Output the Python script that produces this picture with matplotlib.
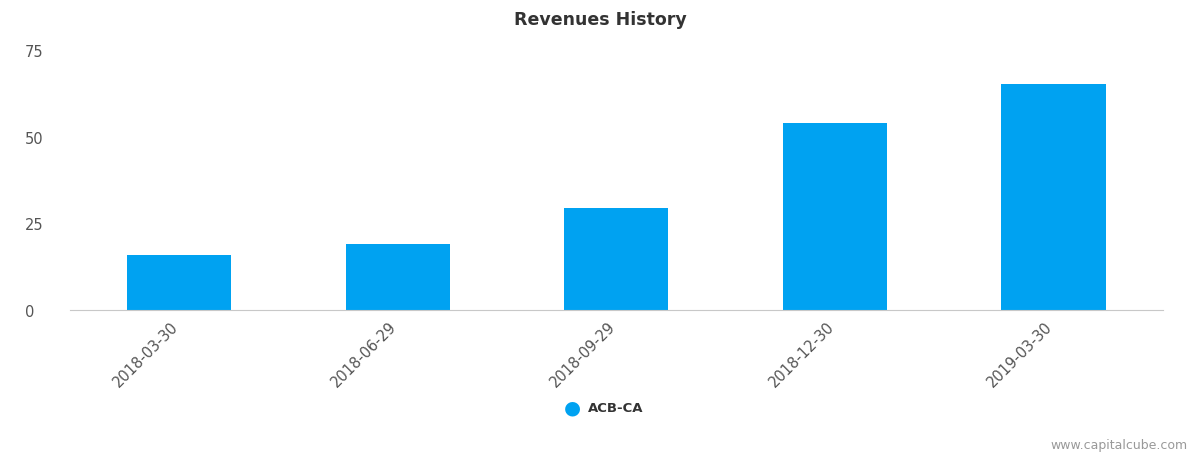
import numpy as np
import matplotlib.pyplot as plt

dates = ['2018-03-30', '2018-06-29', '2018-09-29', '2018-12-30', '2019-03-30']
revenues = [15.9, 19.0, 29.4, 53.9, 65.2]
series_name = 'ACB-CA'

fig = plt.figure(figsize=(12, 4.56), dpi=100)
ax = fig.add_axes([0.058, 0.318, 0.911, 0.57])
x = np.arange(len(dates))
ax.bar(x, revenues, width=0.476, color='#00a2f1')
ax.set_xlim(-0.5, len(dates) - 0.5)
ax.set_ylim(0, 75)
ax.set_yticks([0, 25, 50, 75])
ax.set_xticks(x)
ax.set_xticklabels(dates, rotation=45, ha='right', rotation_mode='anchor', color='#555555', fontsize=10.5)
ax.tick_params(axis='y', length=0, labelsize=10.5, labelcolor='#555555')
ax.tick_params(axis='x', length=0, pad=6)
for s in ['top', 'right', 'left']:
    ax.spines[s].set_visible(False)
ax.spines['bottom'].set_color('#c8c8c8')
for lab in ax.get_yticklabels():
    lab.set_horizontalalignment('left')
ax.yaxis.set_tick_params(pad=32)
for lab in ax.get_xticklabels():
    lab.set_x(lab.get_position()[0])
ax.set_xticks(x - 0.04)
ax.set_xticklabels(dates, rotation=45, ha='right', rotation_mode='anchor', color='#555555', fontsize=10.5)

fig.text(0.5, 0.957, 'Revenues History', ha='center', va='center', fontsize=12.5, fontweight='bold', color='#333333')
fig.text(0.477, 0.105, '\u25cf', ha='center', va='center', fontsize=14, color='#00a2f1')
fig.text(0.49, 0.105, series_name, ha='left', va='center', fontsize=9.5, fontweight='bold', color='#333333')
fig.text(0.99, 0.022, 'www.capitalcube.com', ha='right', va='center', fontsize=9, color='#999999')

fig.savefig('out.png', dpi=100)
